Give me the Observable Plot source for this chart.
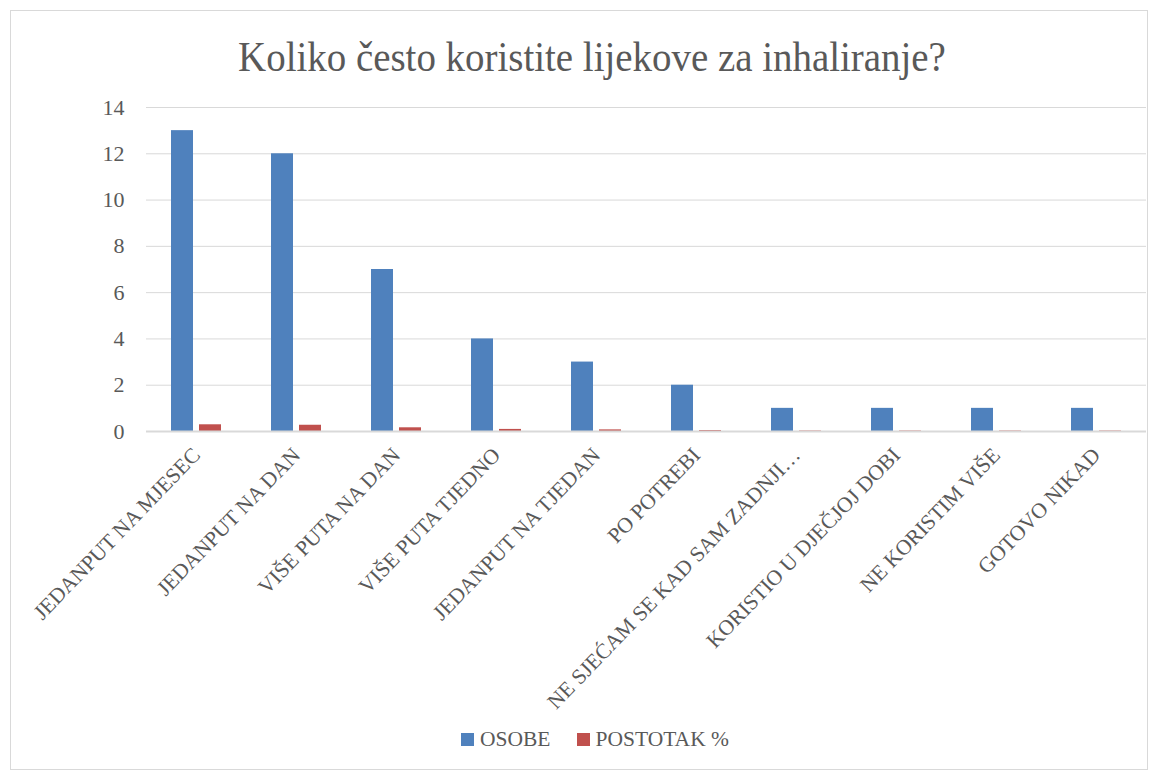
<!DOCTYPE html>
<html>
<head>
<meta charset="utf-8">
<script src="https://cdn.jsdelivr.net/npm/d3@7"></script>
<script src="https://cdn.jsdelivr.net/npm/@observablehq/plot@0.6"></script>
<style>
  body { margin: 0; background: #fff; }
  #wrap { position: relative; width: 1162px; height: 771px; overflow: hidden; font-family: "Liberation Serif", serif; color: #595959; }
  #frame { position: absolute; left: 10px; top: 10px; width: 1138px; height: 760px; border: 1px solid #d9d9d9; box-sizing: border-box; }
  #title { position: absolute; left: 0; width: 1184px; top: 32px; text-align: center; font-size: 43px; line-height: 50px; color: #595959; transform: scaleX(0.905); transform-origin: 592px 0; }
  #chart { position: absolute; left: 0; top: 0; }
  #legend { position: absolute; top: 727px; left: 0; width: 1190px; display: flex; justify-content: center; gap: 26px; font-size: 21.5px; }
  .item { display: flex; align-items: center; gap: 6px; }
  .sw { width: 13px; height: 13px; display: inline-block; }
</style>
</head>
<body>
<div id="wrap">
  <div id="frame"></div>
  <div id="chart"></div>
  <div id="title">Koliko često koristite lijekove za inhaliranje?</div>
  <div id="legend"></div>
</div>
<script>
const categories = [
  "JEDANPUT NA MJESEC",
  "JEDANPUT NA DAN",
  "VIŠE PUTA NA DAN",
  "VIŠE PUTA TJEDNO",
  "JEDANPUT NA TJEDAN",
  "PO POTREBI",
  "NE SJEĆAM SE KAD SAM ZADNJI…",
  "KORISTIO U DJEČJOJ DOBI",
  "NE KORISTIM VIŠE",
  "GOTOVO NIKAD"
];
const series = ["OSOBE", "POSTOTAK %"];
const osobe = [13, 12, 7, 4, 3, 2, 1, 1, 1, 1];
const postotak = [0.29, 0.27, 0.16, 0.09, 0.07, 0.04, 0.02, 0.02, 0.02, 0.02];
const yTicks = [0, 2, 4, 6, 8, 10, 12, 14];
const colors = ["#4F81BD", "#C0504D"];

const data = categories.flatMap((c, i) => [
  {cat: c, series: series[0], value: osobe[i]},
  {cat: c, series: series[1], value: postotak[i]}
]);

const chart = Plot.plot({
  width: 1162,
  height: 771,
  marginLeft: 145,
  marginRight: 15,
  marginTop: 107,
  marginBottom: 340,
  style: {fontFamily: "'Liberation Serif', serif", color: "#595959", background: "transparent"},
  fx: {domain: categories, padding: 0, label: null, axis: null},
  x: {domain: series, paddingInner: 0.2, paddingOuter: 0.86, axis: null},
  y: {domain: [0, 14], label: null},
  color: {domain: series, range: colors},
  marks: [
    Plot.gridY(yTicks, {stroke: "#d9d9d9", strokeOpacity: 1, strokeWidth: 1}),
    Plot.axisY(yTicks, {tickSize: 0, tickPadding: 22, fontSize: 22, label: null, fill: "#595959"}),
    Plot.barY(data, {fx: "cat", x: "series", y: "value", fill: "series"}),
    Plot.ruleY([0], {stroke: "#d9d9d9", strokeWidth: 2}),
    Plot.axisFx({anchor: "bottom", tickRotate: -46, tickSize: 0, tickPadding: 20, fontSize: 21.5, label: null, fill: "#595959"})
  ]
});
document.getElementById("chart").appendChild(chart);

const legend = document.getElementById("legend");
series.forEach((s, i) => {
  const item = document.createElement("div");
  item.className = "item";
  const sw = document.createElement("span");
  sw.className = "sw";
  sw.style.background = colors[i];
  const t = document.createElement("span");
  t.textContent = s;
  item.appendChild(sw);
  item.appendChild(t);
  legend.appendChild(item);
});
</script>
</body>
</html>
